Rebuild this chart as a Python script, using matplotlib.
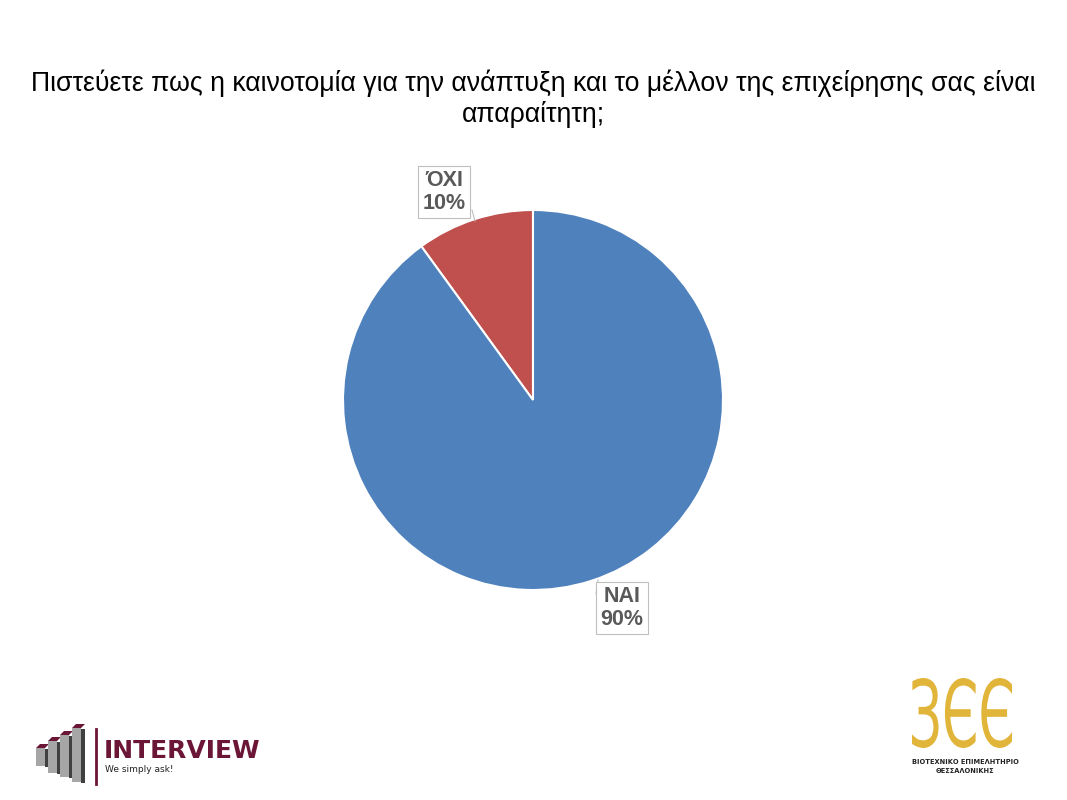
import matplotlib
matplotlib.use("Agg")
import matplotlib.pyplot as plt
import numpy as np
from matplotlib.patches import Rectangle, Polygon, PathPatch
from matplotlib.textpath import TextPath
from matplotlib.font_manager import FontProperties
from matplotlib.transforms import Affine2D

title = "Πιστεύετε πως η καινοτομία για την ανάπτυξη και το μέλλον της επιχείρησης σας είναι\nαπαραίτητη;"
categories = ["ΌΧΙ", "ΝΑΙ"]
values = [10, 90]
colors = ["#C0504D", "#4F81BD"]

W, H = 1067, 800
fig = plt.figure(figsize=(W / 100, H / 100), dpi=100)
fig.patch.set_facecolor("white")

def fx(px):
    return px / W

def fy(py):
    return 1 - py / H

fig.text(fx(533), fy(99), title, ha="center", va="center", fontsize=19.2,
         family="Liberation Sans", color="black", linespacing=1.2)

# Pie axes
cx, cy, R = 533, 400, 190
ax = fig.add_axes([fx(cx - R), fy(cy + R), 2 * R / W, 2 * R / H])
wedges, _ = ax.pie(values, colors=colors, startangle=90, counterclock=True, radius=1,
                   wedgeprops=dict(edgecolor="white", linewidth=1.5))
ax.set_xlim(-1, 1)
ax.set_ylim(-1, 1)
ax.set_aspect("equal")
ax.axis("off")

label_pos = [((444 - cx) / R, (cy - 192) / R), ((622 - cx) / R, (cy - 608) / R)]
total = sum(values)
for i, (w, (lx, ly)) in enumerate(zip(wedges, label_pos)):
    pct = values[i] / total * 100
    txt = f"{categories[i]}\n{pct:.0f}%"
    ax.text(lx, ly, txt, ha="center", va="center", fontsize=15.5, fontweight="bold",
            family="Liberation Sans", color="#595959", linespacing=1.1,
            bbox=dict(boxstyle="square,pad=0.2", fc="white", ec="#BFBFBF", lw=0.8),
            clip_on=False)

# short leader lines
ax.plot([(472 - cx) / R, (475 - cx) / R], [(cy - 210) / R, (cy - 221) / R], color="#BFBFBF", lw=0.8, clip_on=False)
ax.plot([(596 - cx) / R, (598 - cx) / R], [(cy - 594) / R, (cy - 580) / R], color="#BFBFBF", lw=0.8, clip_on=False)

# INTERVIEW logo
la = fig.add_axes([0, 0, 1, 1], facecolor="none")
la.set_xlim(0, W)
la.set_ylim(H, 0)
la.axis("off")
maroon = "#6B1637"
bars = [(36, 748, 9, 18), (48, 741, 9, 32), (60, 735, 9, 42), (72, 728, 9, 54)]
for (x, y, w, h) in bars:
    la.add_patch(Rectangle((x, y), w, h, fc="#A6A6A6", ec="none"))
    la.add_patch(Rectangle((x + w, y + 1), 4, h, fc="#404040", ec="none"))
    la.add_patch(Polygon([(x, y), (x + 4, y - 4), (x + w + 4, y - 4), (x + w, y)], closed=True, fc=maroon, ec="none"))
la.plot([96, 96], [729, 784], color=maroon, lw=2)
la.text(104, 751, "INTERVIEW", ha="left", va="center", fontsize=18, fontweight="bold",
        family="DejaVu Sans", color=maroon)
la.text(105, 770, "We simply ask!", ha="left", va="center", fontsize=6.5, family="DejaVu Sans", color="#222222")

# BEE logo drawn as a scaled text path
gold = "#E1B43A"
tp = TextPath((0, 0), "ЗЄЄ", size=100, prop=FontProperties(family="DejaVu Sans", weight="normal"))
ext = tp.get_extents()
x0, x1, y0, y1 = 912, 1012, 678, 748
tr = Affine2D().translate(-ext.x0, -ext.y0).scale((x1 - x0) / ext.width, -(y1 - y0) / ext.height).translate(x0, y1)
la.add_patch(PathPatch(tr.transform_path(tp), fc=gold, ec="none"))
la.text(965, 762, "ΒΙΟΤΕΧΝΙΚΟ ΕΠΙΜΕΛΗΤΗΡΙΟ", ha="center", va="center", fontsize=4.8,
        fontweight="bold", family="DejaVu Sans", color="#222222")
la.text(965, 771, "ΘΕΣΣΑΛΟΝΙΚΗΣ", ha="center", va="center", fontsize=4.8,
        fontweight="bold", family="DejaVu Sans", color="#222222")

fig.savefig("out.png", dpi=100, facecolor="white")
